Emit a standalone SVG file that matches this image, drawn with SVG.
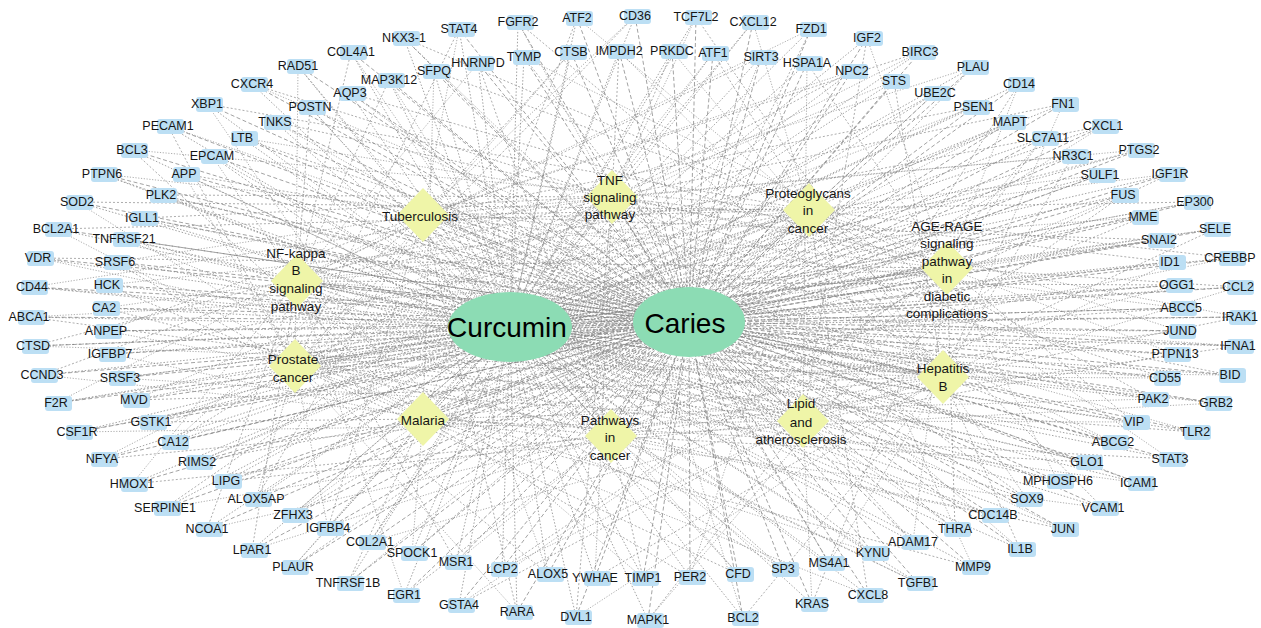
<svg xmlns="http://www.w3.org/2000/svg" xmlns:xlink="http://www.w3.org/1999/xlink" width="1261" height="628" viewBox="0 0 1261 628">
<style>
.bg{fill:#ffffff}
.e path{fill:none;stroke:#7a7a7a;stroke-width:.7}
.e1 path{stroke-dasharray:1.5 1.8}
.e2 path{stroke-dasharray:4 2.5}
.e3 path{stroke-dasharray:2 2;stroke:#8a8a8a}
.e4 path{stroke-dasharray:3 2;stroke:#888}
.e5 path{stroke-dasharray:1.2 1.6;stroke:#8a8a8a}
.g rect{fill:#bcdff4}
.g text{font-family:"Liberation Sans",Arial,sans-serif;font-size:12.5px;fill:#151515;text-anchor:middle}
.p use{fill:#eff5a8}
.p text{font-family:"Liberation Sans",Arial,sans-serif;font-size:13.5px;fill:#151515;text-anchor:middle}
.h ellipse{fill:#8cdcb4}
.h text{font-family:"Liberation Sans",Arial,sans-serif;font-size:28px;fill:#000;text-anchor:middle}
</style>
<defs>
<polygon id="dia" points="0,-27 26,0 0,27 -26,0"/>
</defs>
<rect class="bg" x="0" y="0" width="1261" height="628"/>
<g id="connectors" class="e">
<g id="edges-curcumin" class="e1">
<path d="M298 66L510 327"/><path d="M252 84L510 327"/><path d="M207 104L510 327"/><path d="M310 107L510 327"/><path d="M275 122L510 327"/><path d="M168 126L510 327"/><path d="M242 138L510 327"/><path d="M132 150L510 327"/><path d="M212 156L510 327"/><path d="M102 174L510 327"/><path d="M184 174L510 327"/><path d="M161 195L510 327"/><path d="M77 202L510 327"/><path d="M351 52L510 327"/><path d="M404 38L510 327"/><path d="M459 29L510 327"/><path d="M518 22L510 327"/><path d="M577 18L510 327"/><path d="M478 63L510 327"/><path d="M524 57L510 327"/><path d="M571 52L510 327"/><path d="M619 51L510 327"/><path d="M434 71L510 327"/><path d="M389 80L510 327"/><path d="M350 93L510 327"/><path d="M635 16L510 327"/><path d="M696 17L510 327"/><path d="M753 22L510 327"/><path d="M811 29L510 327"/><path d="M867 38L510 327"/><path d="M920 52L510 327"/><path d="M672 51L510 327"/><path d="M713 53L510 327"/><path d="M761 57L510 327"/><path d="M807 63L510 327"/><path d="M852 71L510 327"/><path d="M894 81L510 327"/><path d="M935 93L510 327"/><path d="M973 67L510 327"/><path d="M1019 84L510 327"/><path d="M974 107L510 327"/><path d="M1063 104L510 327"/><path d="M1010 122L510 327"/><path d="M1103 126L510 327"/><path d="M1043 138L510 327"/><path d="M1139 150L510 327"/><path d="M1073 156L510 327"/><path d="M1100 175L510 327"/><path d="M1170 174L510 327"/><path d="M1123 195L510 327"/><path d="M1195 202L510 327"/><path d="M142 218L510 327"/><path d="M56 229L510 327"/><path d="M124 239L510 327"/><path d="M38 258L510 327"/><path d="M115 262L510 327"/><path d="M32 287L510 327"/><path d="M107 285L510 327"/><path d="M104 308L510 327"/><path d="M29 317L510 327"/><path d="M106 331L510 327"/><path d="M33 346L510 327"/><path d="M110 354L510 327"/><path d="M42 375L510 327"/><path d="M120 378L510 327"/><path d="M56 403L510 327"/><path d="M134 400L510 327"/><path d="M151 422L510 327"/><path d="M1143 217L510 327"/><path d="M1215 229L510 327"/><path d="M1159 240L510 327"/><path d="M1170 262L510 327"/><path d="M1230 258L510 327"/><path d="M1177 285L510 327"/><path d="M1238 287L510 327"/><path d="M1181 308L510 327"/><path d="M1240 317L510 327"/><path d="M1180 331L510 327"/><path d="M1238 346L510 327"/><path d="M1175 354L510 327"/><path d="M1230 375L510 327"/><path d="M1165 378L510 327"/><path d="M1153 399L510 327"/><path d="M1216 403L510 327"/><path d="M1134 422L510 327"/><path d="M1195 432L510 327"/><path d="M1113 442L510 327"/><path d="M1170 459L510 327"/><path d="M1087 462L510 327"/><path d="M1058 481L510 327"/><path d="M1139 483L510 327"/><path d="M1027 499L510 327"/><path d="M1103 508L510 327"/><path d="M993 515L510 327"/><path d="M955 529L510 327"/><path d="M1063 529L510 327"/><path d="M1020 549L510 327"/><path d="M973 567L510 327"/><path d="M918 583L510 327"/><path d="M913 542L510 327"/><path d="M873 553L510 327"/><path d="M829 563L510 327"/><path d="M868 595L510 327"/><path d="M783 569L510 327"/><path d="M812 604L510 327"/><path d="M738 574L510 327"/><path d="M743 618L510 327"/><path d="M690 577L510 327"/><path d="M643 578L510 327"/><path d="M648 620L510 327"/><path d="M328 528L510 327"/><path d="M370 542L510 327"/><path d="M412 553L510 327"/><path d="M456 562L510 327"/><path d="M502 569L510 327"/><path d="M548 574L510 327"/><path d="M595 578L510 327"/><path d="M348 583L510 327"/><path d="M404 595L510 327"/><path d="M459 605L510 327"/><path d="M517 612L510 327"/><path d="M576 617L510 327"/><path d="M293 567L510 327"/><path d="M252 550L510 327"/><path d="M77 432L510 327"/><path d="M173 442L510 327"/><path d="M102 459L510 327"/><path d="M197 462L510 327"/><path d="M132 484L510 327"/><path d="M226 481L510 327"/><path d="M256 499L510 327"/><path d="M165 508L510 327"/><path d="M293 515L510 327"/><path d="M207 529L510 327"/>
</g>
<g id="edges-caries" class="e2">
<path d="M298 66L689 322"/><path d="M252 84L689 322"/><path d="M207 104L689 322"/><path d="M310 107L689 322"/><path d="M275 122L689 322"/><path d="M168 126L689 322"/><path d="M242 138L689 322"/><path d="M132 150L689 322"/><path d="M212 156L689 322"/><path d="M102 174L689 322"/><path d="M184 174L689 322"/><path d="M161 195L689 322"/><path d="M77 202L689 322"/><path d="M351 52L689 322"/><path d="M404 38L689 322"/><path d="M459 29L689 322"/><path d="M518 22L689 322"/><path d="M577 18L689 322"/><path d="M478 63L689 322"/><path d="M524 57L689 322"/><path d="M571 52L689 322"/><path d="M619 51L689 322"/><path d="M434 71L689 322"/><path d="M389 80L689 322"/><path d="M350 93L689 322"/><path d="M635 16L689 322"/><path d="M696 17L689 322"/><path d="M753 22L689 322"/><path d="M811 29L689 322"/><path d="M867 38L689 322"/><path d="M920 52L689 322"/><path d="M672 51L689 322"/><path d="M713 53L689 322"/><path d="M761 57L689 322"/><path d="M807 63L689 322"/><path d="M852 71L689 322"/><path d="M894 81L689 322"/><path d="M935 93L689 322"/><path d="M973 67L689 322"/><path d="M1019 84L689 322"/><path d="M974 107L689 322"/><path d="M1063 104L689 322"/><path d="M1010 122L689 322"/><path d="M1103 126L689 322"/><path d="M1043 138L689 322"/><path d="M1139 150L689 322"/><path d="M1073 156L689 322"/><path d="M1100 175L689 322"/><path d="M1170 174L689 322"/><path d="M1123 195L689 322"/><path d="M1195 202L689 322"/><path d="M142 218L689 322"/><path d="M56 229L689 322"/><path d="M124 239L689 322"/><path d="M38 258L689 322"/><path d="M115 262L689 322"/><path d="M32 287L689 322"/><path d="M107 285L689 322"/><path d="M104 308L689 322"/><path d="M29 317L689 322"/><path d="M106 331L689 322"/><path d="M33 346L689 322"/><path d="M110 354L689 322"/><path d="M42 375L689 322"/><path d="M120 378L689 322"/><path d="M56 403L689 322"/><path d="M134 400L689 322"/><path d="M151 422L689 322"/><path d="M1143 217L689 322"/><path d="M1215 229L689 322"/><path d="M1159 240L689 322"/><path d="M1170 262L689 322"/><path d="M1230 258L689 322"/><path d="M1177 285L689 322"/><path d="M1238 287L689 322"/><path d="M1181 308L689 322"/><path d="M1240 317L689 322"/><path d="M1180 331L689 322"/><path d="M1238 346L689 322"/><path d="M1175 354L689 322"/><path d="M1230 375L689 322"/><path d="M1165 378L689 322"/><path d="M1153 399L689 322"/><path d="M1216 403L689 322"/><path d="M1134 422L689 322"/><path d="M1195 432L689 322"/><path d="M1113 442L689 322"/><path d="M1170 459L689 322"/><path d="M1087 462L689 322"/><path d="M1058 481L689 322"/><path d="M1139 483L689 322"/><path d="M1027 499L689 322"/><path d="M1103 508L689 322"/><path d="M993 515L689 322"/><path d="M955 529L689 322"/><path d="M1063 529L689 322"/><path d="M1020 549L689 322"/><path d="M973 567L689 322"/><path d="M918 583L689 322"/><path d="M913 542L689 322"/><path d="M873 553L689 322"/><path d="M829 563L689 322"/><path d="M868 595L689 322"/><path d="M783 569L689 322"/><path d="M812 604L689 322"/><path d="M738 574L689 322"/><path d="M743 618L689 322"/><path d="M690 577L689 322"/><path d="M643 578L689 322"/><path d="M648 620L689 322"/><path d="M328 528L689 322"/><path d="M370 542L689 322"/><path d="M412 553L689 322"/><path d="M456 562L689 322"/><path d="M502 569L689 322"/><path d="M548 574L689 322"/><path d="M595 578L689 322"/><path d="M348 583L689 322"/><path d="M404 595L689 322"/><path d="M459 605L689 322"/><path d="M517 612L689 322"/><path d="M576 617L689 322"/><path d="M293 567L689 322"/><path d="M252 550L689 322"/><path d="M77 432L689 322"/><path d="M173 442L689 322"/><path d="M102 459L689 322"/><path d="M197 462L689 322"/><path d="M132 484L689 322"/><path d="M226 481L689 322"/><path d="M256 499L689 322"/><path d="M165 508L689 322"/><path d="M293 515L689 322"/><path d="M207 529L689 322"/>
</g>
<g id="edges-pathways" class="e3">
<path d="M298 66L423 215"/><path d="M184 174L423 215"/><path d="M571 52L423 215"/><path d="M920 52L423 215"/><path d="M974 107L423 215"/><path d="M1195 202L423 215"/><path d="M106 331L423 215"/><path d="M1159 240L423 215"/><path d="M1230 375L423 215"/><path d="M1139 483L423 215"/><path d="M873 553L423 215"/><path d="M328 528L423 215"/><path d="M517 612L423 215"/><path d="M256 499L423 215"/>
<path d="M252 84L612 197"/><path d="M161 195L612 197"/><path d="M619 51L612 197"/><path d="M672 51L612 197"/><path d="M1063 104L612 197"/><path d="M142 218L612 197"/><path d="M33 346L612 197"/><path d="M1170 262L612 197"/><path d="M1165 378L612 197"/><path d="M1027 499L612 197"/><path d="M829 563L612 197"/><path d="M370 542L612 197"/><path d="M576 617L612 197"/><path d="M165 508L612 197"/>
<path d="M207 104L809 210"/><path d="M77 202L809 210"/><path d="M434 71L809 210"/><path d="M713 53L809 210"/><path d="M1010 122L809 210"/><path d="M56 229L809 210"/><path d="M110 354L809 210"/><path d="M1230 258L809 210"/><path d="M1153 399L809 210"/><path d="M1103 508L809 210"/><path d="M868 595L809 210"/><path d="M412 553L809 210"/><path d="M293 567L809 210"/><path d="M293 515L809 210"/>
<path d="M310 107L297 281"/><path d="M351 52L297 281"/><path d="M389 80L297 281"/><path d="M761 57L297 281"/><path d="M1103 126L297 281"/><path d="M124 239L297 281"/><path d="M42 375L297 281"/><path d="M1177 285L297 281"/><path d="M1216 403L297 281"/><path d="M993 515L297 281"/><path d="M783 569L297 281"/><path d="M456 562L297 281"/><path d="M252 550L297 281"/><path d="M207 529L297 281"/>
<path d="M275 122L947 268"/><path d="M404 38L947 268"/><path d="M350 93L947 268"/><path d="M807 63L947 268"/><path d="M1043 138L947 268"/><path d="M38 258L947 268"/><path d="M120 378L947 268"/><path d="M1238 287L947 268"/><path d="M1134 422L947 268"/><path d="M955 529L947 268"/><path d="M812 604L947 268"/><path d="M502 569L947 268"/><path d="M77 432L947 268"/>
<path d="M168 126L295 366"/><path d="M459 29L295 366"/><path d="M635 16L295 366"/><path d="M852 71L295 366"/><path d="M1139 150L295 366"/><path d="M115 262L295 366"/><path d="M56 403L295 366"/><path d="M1181 308L295 366"/><path d="M1195 432L295 366"/><path d="M1063 529L295 366"/><path d="M738 574L295 366"/><path d="M548 574L295 366"/><path d="M173 442L295 366"/>
<path d="M242 138L943 377"/><path d="M518 22L943 377"/><path d="M696 17L943 377"/><path d="M894 81L943 377"/><path d="M1073 156L943 377"/><path d="M32 287L943 377"/><path d="M134 400L943 377"/><path d="M1240 317L943 377"/><path d="M1113 442L943 377"/><path d="M1020 549L943 377"/><path d="M743 618L943 377"/><path d="M595 578L943 377"/><path d="M102 459L943 377"/>
<path d="M132 150L423 419"/><path d="M577 18L423 419"/><path d="M753 22L423 419"/><path d="M935 93L423 419"/><path d="M1100 175L423 419"/><path d="M107 285L423 419"/><path d="M151 422L423 419"/><path d="M1180 331L423 419"/><path d="M1170 459L423 419"/><path d="M973 567L423 419"/><path d="M690 577L423 419"/><path d="M348 583L423 419"/><path d="M197 462L423 419"/>
<path d="M212 156L611 436"/><path d="M478 63L611 436"/><path d="M811 29L611 436"/><path d="M973 67L611 436"/><path d="M1170 174L611 436"/><path d="M104 308L611 436"/><path d="M1143 217L611 436"/><path d="M1238 346L611 436"/><path d="M1087 462L611 436"/><path d="M918 583L611 436"/><path d="M643 578L611 436"/><path d="M404 595L611 436"/><path d="M132 484L611 436"/>
<path d="M102 174L803 421"/><path d="M524 57L803 421"/><path d="M867 38L803 421"/><path d="M1019 84L803 421"/><path d="M1123 195L803 421"/><path d="M29 317L803 421"/><path d="M1215 229L803 421"/><path d="M1175 354L803 421"/><path d="M1058 481L803 421"/><path d="M913 542L803 421"/><path d="M648 620L803 421"/><path d="M459 605L803 421"/><path d="M226 481L803 421"/>
</g>
<g id="edges-pathways-2" class="e5">
<path d="M168 126L423 215"/><path d="M459 29L423 215"/><path d="M635 16L423 215"/><path d="M852 71L423 215"/><path d="M1139 150L423 215"/><path d="M115 262L423 215"/><path d="M56 403L423 215"/><path d="M1181 308L423 215"/><path d="M1195 432L423 215"/><path d="M1063 529L423 215"/><path d="M738 574L423 215"/><path d="M548 574L423 215"/><path d="M173 442L423 215"/>
<path d="M242 138L612 197"/><path d="M518 22L612 197"/><path d="M696 17L612 197"/><path d="M894 81L612 197"/><path d="M1073 156L612 197"/><path d="M32 287L612 197"/><path d="M134 400L612 197"/><path d="M1240 317L612 197"/><path d="M1113 442L612 197"/><path d="M1020 549L612 197"/><path d="M743 618L612 197"/><path d="M595 578L612 197"/><path d="M102 459L612 197"/>
<path d="M132 150L809 210"/><path d="M577 18L809 210"/><path d="M753 22L809 210"/><path d="M935 93L809 210"/><path d="M1100 175L809 210"/><path d="M107 285L809 210"/><path d="M151 422L809 210"/><path d="M1180 331L809 210"/><path d="M1170 459L809 210"/><path d="M973 567L809 210"/><path d="M690 577L809 210"/><path d="M348 583L809 210"/><path d="M197 462L809 210"/>
<path d="M212 156L297 281"/><path d="M478 63L297 281"/><path d="M811 29L297 281"/><path d="M973 67L297 281"/><path d="M1170 174L297 281"/><path d="M104 308L297 281"/><path d="M1143 217L297 281"/><path d="M1238 346L297 281"/><path d="M1087 462L297 281"/><path d="M918 583L297 281"/><path d="M643 578L297 281"/><path d="M404 595L297 281"/><path d="M132 484L297 281"/>
<path d="M102 174L947 268"/><path d="M524 57L947 268"/><path d="M867 38L947 268"/><path d="M1019 84L947 268"/><path d="M1123 195L947 268"/><path d="M29 317L947 268"/><path d="M1215 229L947 268"/><path d="M1175 354L947 268"/><path d="M1058 481L947 268"/><path d="M913 542L947 268"/><path d="M648 620L947 268"/><path d="M459 605L947 268"/><path d="M226 481L947 268"/>
<path d="M298 66L295 366"/><path d="M184 174L295 366"/><path d="M571 52L295 366"/><path d="M920 52L295 366"/><path d="M974 107L295 366"/><path d="M1195 202L295 366"/><path d="M106 331L295 366"/><path d="M1159 240L295 366"/><path d="M1230 375L295 366"/><path d="M1139 483L295 366"/><path d="M873 553L295 366"/><path d="M328 528L295 366"/><path d="M517 612L295 366"/><path d="M256 499L295 366"/>
<path d="M252 84L943 377"/><path d="M161 195L943 377"/><path d="M619 51L943 377"/><path d="M672 51L943 377"/><path d="M1063 104L943 377"/><path d="M142 218L943 377"/><path d="M33 346L943 377"/><path d="M1170 262L943 377"/><path d="M1165 378L943 377"/><path d="M1027 499L943 377"/><path d="M829 563L943 377"/><path d="M370 542L943 377"/><path d="M576 617L943 377"/><path d="M165 508L943 377"/>
<path d="M207 104L423 419"/><path d="M77 202L423 419"/><path d="M434 71L423 419"/><path d="M713 53L423 419"/><path d="M1010 122L423 419"/><path d="M56 229L423 419"/><path d="M110 354L423 419"/><path d="M1230 258L423 419"/><path d="M1153 399L423 419"/><path d="M1103 508L423 419"/><path d="M868 595L423 419"/><path d="M412 553L423 419"/><path d="M293 567L423 419"/><path d="M293 515L423 419"/>
<path d="M310 107L611 436"/><path d="M351 52L611 436"/><path d="M389 80L611 436"/><path d="M761 57L611 436"/><path d="M1103 126L611 436"/><path d="M124 239L611 436"/><path d="M42 375L611 436"/><path d="M1177 285L611 436"/><path d="M1216 403L611 436"/><path d="M993 515L611 436"/><path d="M783 569L611 436"/><path d="M456 562L611 436"/><path d="M252 550L611 436"/><path d="M207 529L611 436"/>
<path d="M275 122L803 421"/><path d="M404 38L803 421"/><path d="M350 93L803 421"/><path d="M807 63L803 421"/><path d="M1043 138L803 421"/><path d="M38 258L803 421"/><path d="M120 378L803 421"/><path d="M1238 287L803 421"/><path d="M1134 422L803 421"/><path d="M955 529L803 421"/><path d="M812 604L803 421"/><path d="M502 569L803 421"/><path d="M77 432L803 421"/>
</g>
<g id="edges-hub-pathway" class="e4">
<path d="M510 327L423 215"/><path d="M510 327L612 197"/><path d="M510 327L809 210"/><path d="M510 327L297 281"/><path d="M510 327L947 268"/><path d="M510 327L295 366"/><path d="M510 327L943 377"/><path d="M510 327L423 419"/><path d="M510 327L611 436"/><path d="M510 327L803 421"/>
<path d="M689 322L423 215"/><path d="M689 322L612 197"/><path d="M689 322L809 210"/><path d="M689 322L297 281"/><path d="M689 322L947 268"/><path d="M689 322L295 366"/><path d="M689 322L943 377"/><path d="M689 322L423 419"/><path d="M689 322L611 436"/><path d="M689 322L803 421"/>
</g>
</g>
<g id="pathways" class="p">
<g id="p-tuberculosis"><use href="#dia" x="423" y="215"/><text x="420" y="221">Tuberculosis</text></g>
<g id="p-tnf"><use href="#dia" x="612" y="197"/><text x="610" y="185">TNF</text><text x="610" y="202">signaling</text><text x="610" y="219">pathway</text></g>
<g id="p-proteoglycans"><use href="#dia" x="809" y="210"/><text x="808" y="198">Proteoglycans</text><text x="808" y="215">in</text><text x="808" y="233">cancer</text></g>
<g id="p-nfkb"><use href="#dia" x="297" y="281"/><text x="296" y="258">NF-kappa</text><text x="296" y="275">B</text><text x="296" y="293">signaling</text><text x="296" y="311">pathway</text></g>
<g id="p-agerage"><use href="#dia" x="947" y="268"/><text x="947" y="231">AGE-RAGE</text><text x="947" y="248">signaling</text><text x="947" y="266">pathway</text><text x="947" y="283">in</text><text x="947" y="301">diabetic</text><text x="947" y="318">complications</text></g>
<g id="p-prostate"><use href="#dia" x="295" y="366"/><text x="293" y="364">Prostate</text><text x="293" y="382">cancer</text></g>
<g id="p-hepatitisb"><use href="#dia" x="943" y="377"/><text x="943" y="373">Hepatitis</text><text x="943" y="391">B</text></g>
<g id="p-malaria"><use href="#dia" x="423" y="419"/><text x="423" y="425">Malaria</text></g>
<g id="p-pathwaysincancer"><use href="#dia" x="611" y="436"/><text x="610" y="425">Pathways</text><text x="610" y="442">in</text><text x="610" y="460">cancer</text></g>
<g id="p-lipid"><use href="#dia" x="803" y="421"/><text x="801" y="408">Lipid</text><text x="801" y="427">and</text><text x="801" y="444">atherosclerosis</text></g>
</g>
<g id="hubs" class="h">
<g id="n-curcumin"><ellipse cx="510" cy="327" rx="62" ry="35"/><text x="507" y="337">Curcumin</text></g>
<g id="n-caries"><ellipse cx="689" cy="322" rx="56" ry="35"/><text x="685" y="333">Caries</text></g>
</g>
<g id="genes" class="g">
<g id="n-RAD51"><rect x="287" y="59" width="27" height="15" rx="3"/><text x="298" y="70">RAD51</text></g>
<g id="n-CXCR4"><rect x="241" y="77" width="27" height="15" rx="3"/><text x="252" y="88">CXCR4</text></g>
<g id="n-XBP1"><rect x="196" y="97" width="27" height="15" rx="3"/><text x="207" y="108">XBP1</text></g>
<g id="n-POSTN"><rect x="299" y="100" width="27" height="15" rx="3"/><text x="310" y="111">POSTN</text></g>
<g id="n-TNKS"><rect x="264" y="115" width="27" height="15" rx="3"/><text x="275" y="126">TNKS</text></g>
<g id="n-PECAM1"><rect x="157" y="119" width="27" height="15" rx="3"/><text x="168" y="130">PECAM1</text></g>
<g id="n-LTB"><rect x="231" y="131" width="27" height="15" rx="3"/><text x="242" y="142">LTB</text></g>
<g id="n-BCL3"><rect x="121" y="143" width="27" height="15" rx="3"/><text x="132" y="154">BCL3</text></g>
<g id="n-EPCAM"><rect x="201" y="149" width="27" height="15" rx="3"/><text x="212" y="160">EPCAM</text></g>
<g id="n-PTPN6"><rect x="91" y="167" width="27" height="15" rx="3"/><text x="102" y="178">PTPN6</text></g>
<g id="n-APP"><rect x="173" y="167" width="27" height="15" rx="3"/><text x="184" y="178">APP</text></g>
<g id="n-PLK2"><rect x="150" y="188" width="27" height="15" rx="3"/><text x="161" y="199">PLK2</text></g>
<g id="n-SOD2"><rect x="66" y="195" width="27" height="15" rx="3"/><text x="77" y="206">SOD2</text></g>
<g id="n-COL4A1"><rect x="340" y="45" width="27" height="15" rx="3"/><text x="351" y="56">COL4A1</text></g>
<g id="n-NKX3-1"><rect x="393" y="31" width="27" height="15" rx="3"/><text x="404" y="42">NKX3-1</text></g>
<g id="n-STAT4"><rect x="448" y="22" width="27" height="15" rx="3"/><text x="459" y="33">STAT4</text></g>
<g id="n-FGFR2"><rect x="507" y="15" width="27" height="15" rx="3"/><text x="518" y="26">FGFR2</text></g>
<g id="n-ATF2"><rect x="566" y="11" width="27" height="15" rx="3"/><text x="577" y="22">ATF2</text></g>
<g id="n-HNRNPD"><rect x="467" y="56" width="27" height="15" rx="3"/><text x="478" y="67">HNRNPD</text></g>
<g id="n-TYMP"><rect x="513" y="50" width="27" height="15" rx="3"/><text x="524" y="61">TYMP</text></g>
<g id="n-CTSB"><rect x="560" y="45" width="27" height="15" rx="3"/><text x="571" y="56">CTSB</text></g>
<g id="n-IMPDH2"><rect x="608" y="44" width="27" height="15" rx="3"/><text x="619" y="55">IMPDH2</text></g>
<g id="n-SFPQ"><rect x="423" y="64" width="27" height="15" rx="3"/><text x="434" y="75">SFPQ</text></g>
<g id="n-MAP3K12"><rect x="378" y="73" width="27" height="15" rx="3"/><text x="389" y="84">MAP3K12</text></g>
<g id="n-AQP3"><rect x="339" y="86" width="27" height="15" rx="3"/><text x="350" y="97">AQP3</text></g>
<g id="n-CD36"><rect x="624" y="9" width="27" height="15" rx="3"/><text x="635" y="20">CD36</text></g>
<g id="n-TCF7L2"><rect x="685" y="10" width="27" height="15" rx="3"/><text x="696" y="21">TCF7L2</text></g>
<g id="n-CXCL12"><rect x="742" y="15" width="27" height="15" rx="3"/><text x="753" y="26">CXCL12</text></g>
<g id="n-FZD1"><rect x="800" y="22" width="27" height="15" rx="3"/><text x="811" y="33">FZD1</text></g>
<g id="n-IGF2"><rect x="856" y="31" width="27" height="15" rx="3"/><text x="867" y="42">IGF2</text></g>
<g id="n-BIRC3"><rect x="909" y="45" width="27" height="15" rx="3"/><text x="920" y="56">BIRC3</text></g>
<g id="n-PRKDC"><rect x="661" y="44" width="27" height="15" rx="3"/><text x="672" y="55">PRKDC</text></g>
<g id="n-ATF1"><rect x="702" y="46" width="27" height="15" rx="3"/><text x="713" y="57">ATF1</text></g>
<g id="n-SIRT3"><rect x="750" y="50" width="27" height="15" rx="3"/><text x="761" y="61">SIRT3</text></g>
<g id="n-HSPA1A"><rect x="796" y="56" width="27" height="15" rx="3"/><text x="807" y="67">HSPA1A</text></g>
<g id="n-NPC2"><rect x="841" y="64" width="27" height="15" rx="3"/><text x="852" y="75">NPC2</text></g>
<g id="n-STS"><rect x="883" y="74" width="27" height="15" rx="3"/><text x="894" y="85">STS</text></g>
<g id="n-UBE2C"><rect x="924" y="86" width="27" height="15" rx="3"/><text x="935" y="97">UBE2C</text></g>
<g id="n-PLAU"><rect x="962" y="60" width="27" height="15" rx="3"/><text x="973" y="71">PLAU</text></g>
<g id="n-CD14"><rect x="1008" y="77" width="27" height="15" rx="3"/><text x="1019" y="88">CD14</text></g>
<g id="n-PSEN1"><rect x="963" y="100" width="27" height="15" rx="3"/><text x="974" y="111">PSEN1</text></g>
<g id="n-FN1"><rect x="1052" y="97" width="27" height="15" rx="3"/><text x="1063" y="108">FN1</text></g>
<g id="n-MAPT"><rect x="999" y="115" width="27" height="15" rx="3"/><text x="1010" y="126">MAPT</text></g>
<g id="n-CXCL1"><rect x="1092" y="119" width="27" height="15" rx="3"/><text x="1103" y="130">CXCL1</text></g>
<g id="n-SLC7A11"><rect x="1032" y="131" width="27" height="15" rx="3"/><text x="1043" y="142">SLC7A11</text></g>
<g id="n-PTGS2"><rect x="1128" y="143" width="27" height="15" rx="3"/><text x="1139" y="154">PTGS2</text></g>
<g id="n-NR3C1"><rect x="1062" y="149" width="27" height="15" rx="3"/><text x="1073" y="160">NR3C1</text></g>
<g id="n-SULF1"><rect x="1089" y="168" width="27" height="15" rx="3"/><text x="1100" y="179">SULF1</text></g>
<g id="n-IGF1R"><rect x="1159" y="167" width="27" height="15" rx="3"/><text x="1170" y="178">IGF1R</text></g>
<g id="n-FUS"><rect x="1112" y="188" width="27" height="15" rx="3"/><text x="1123" y="199">FUS</text></g>
<g id="n-EP300"><rect x="1184" y="195" width="27" height="15" rx="3"/><text x="1195" y="206">EP300</text></g>
<g id="n-IGLL1"><rect x="131" y="211" width="27" height="15" rx="3"/><text x="142" y="222">IGLL1</text></g>
<g id="n-BCL2A1"><rect x="45" y="222" width="27" height="15" rx="3"/><text x="56" y="233">BCL2A1</text></g>
<g id="n-TNFRSF21"><rect x="113" y="232" width="27" height="15" rx="3"/><text x="124" y="243">TNFRSF21</text></g>
<g id="n-VDR"><rect x="27" y="251" width="27" height="15" rx="3"/><text x="38" y="262">VDR</text></g>
<g id="n-SRSF6"><rect x="104" y="255" width="27" height="15" rx="3"/><text x="115" y="266">SRSF6</text></g>
<g id="n-CD44"><rect x="21" y="280" width="27" height="15" rx="3"/><text x="32" y="291">CD44</text></g>
<g id="n-HCK"><rect x="96" y="278" width="27" height="15" rx="3"/><text x="107" y="289">HCK</text></g>
<g id="n-CA2"><rect x="93" y="301" width="27" height="15" rx="3"/><text x="104" y="312">CA2</text></g>
<g id="n-ABCA1"><rect x="18" y="310" width="27" height="15" rx="3"/><text x="29" y="321">ABCA1</text></g>
<g id="n-ANPEP"><rect x="95" y="324" width="27" height="15" rx="3"/><text x="106" y="335">ANPEP</text></g>
<g id="n-CTSD"><rect x="22" y="339" width="27" height="15" rx="3"/><text x="33" y="350">CTSD</text></g>
<g id="n-IGFBP7"><rect x="99" y="347" width="27" height="15" rx="3"/><text x="110" y="358">IGFBP7</text></g>
<g id="n-CCND3"><rect x="31" y="368" width="27" height="15" rx="3"/><text x="42" y="379">CCND3</text></g>
<g id="n-SRSF3"><rect x="109" y="371" width="27" height="15" rx="3"/><text x="120" y="382">SRSF3</text></g>
<g id="n-F2R"><rect x="45" y="396" width="27" height="15" rx="3"/><text x="56" y="407">F2R</text></g>
<g id="n-MVD"><rect x="123" y="393" width="27" height="15" rx="3"/><text x="134" y="404">MVD</text></g>
<g id="n-GSTK1"><rect x="140" y="415" width="27" height="15" rx="3"/><text x="151" y="426">GSTK1</text></g>
<g id="n-MME"><rect x="1132" y="210" width="27" height="15" rx="3"/><text x="1143" y="221">MME</text></g>
<g id="n-SELE"><rect x="1204" y="222" width="27" height="15" rx="3"/><text x="1215" y="233">SELE</text></g>
<g id="n-SNAI2"><rect x="1148" y="233" width="27" height="15" rx="3"/><text x="1159" y="244">SNAI2</text></g>
<g id="n-ID1"><rect x="1159" y="255" width="27" height="15" rx="3"/><text x="1170" y="266">ID1</text></g>
<g id="n-CREBBP"><rect x="1219" y="251" width="27" height="15" rx="3"/><text x="1230" y="262">CREBBP</text></g>
<g id="n-OGG1"><rect x="1166" y="278" width="27" height="15" rx="3"/><text x="1177" y="289">OGG1</text></g>
<g id="n-CCL2"><rect x="1227" y="280" width="27" height="15" rx="3"/><text x="1238" y="291">CCL2</text></g>
<g id="n-ABCC5"><rect x="1170" y="301" width="27" height="15" rx="3"/><text x="1181" y="312">ABCC5</text></g>
<g id="n-IRAK1"><rect x="1229" y="310" width="27" height="15" rx="3"/><text x="1240" y="321">IRAK1</text></g>
<g id="n-JUND"><rect x="1169" y="324" width="27" height="15" rx="3"/><text x="1180" y="335">JUND</text></g>
<g id="n-IFNA1"><rect x="1227" y="339" width="27" height="15" rx="3"/><text x="1238" y="350">IFNA1</text></g>
<g id="n-PTPN13"><rect x="1164" y="347" width="27" height="15" rx="3"/><text x="1175" y="358">PTPN13</text></g>
<g id="n-BID"><rect x="1219" y="368" width="27" height="15" rx="3"/><text x="1230" y="379">BID</text></g>
<g id="n-CD55"><rect x="1154" y="371" width="27" height="15" rx="3"/><text x="1165" y="382">CD55</text></g>
<g id="n-PAK2"><rect x="1142" y="392" width="27" height="15" rx="3"/><text x="1153" y="403">PAK2</text></g>
<g id="n-GRB2"><rect x="1205" y="396" width="27" height="15" rx="3"/><text x="1216" y="407">GRB2</text></g>
<g id="n-VIP"><rect x="1123" y="415" width="27" height="15" rx="3"/><text x="1134" y="426">VIP</text></g>
<g id="n-TLR2"><rect x="1184" y="425" width="27" height="15" rx="3"/><text x="1195" y="436">TLR2</text></g>
<g id="n-ABCG2"><rect x="1102" y="435" width="27" height="15" rx="3"/><text x="1113" y="446">ABCG2</text></g>
<g id="n-STAT3"><rect x="1159" y="452" width="27" height="15" rx="3"/><text x="1170" y="463">STAT3</text></g>
<g id="n-GLO1"><rect x="1076" y="455" width="27" height="15" rx="3"/><text x="1087" y="466">GLO1</text></g>
<g id="n-MPHOSPH6"><rect x="1047" y="474" width="27" height="15" rx="3"/><text x="1058" y="485">MPHOSPH6</text></g>
<g id="n-ICAM1"><rect x="1128" y="476" width="27" height="15" rx="3"/><text x="1139" y="487">ICAM1</text></g>
<g id="n-SOX9"><rect x="1016" y="492" width="27" height="15" rx="3"/><text x="1027" y="503">SOX9</text></g>
<g id="n-VCAM1"><rect x="1092" y="501" width="27" height="15" rx="3"/><text x="1103" y="512">VCAM1</text></g>
<g id="n-CDC14B"><rect x="982" y="508" width="27" height="15" rx="3"/><text x="993" y="519">CDC14B</text></g>
<g id="n-THRA"><rect x="944" y="522" width="27" height="15" rx="3"/><text x="955" y="533">THRA</text></g>
<g id="n-JUN"><rect x="1052" y="522" width="27" height="15" rx="3"/><text x="1063" y="533">JUN</text></g>
<g id="n-IL1B"><rect x="1009" y="542" width="27" height="15" rx="3"/><text x="1020" y="553">IL1B</text></g>
<g id="n-MMP9"><rect x="962" y="560" width="27" height="15" rx="3"/><text x="973" y="571">MMP9</text></g>
<g id="n-TGFB1"><rect x="907" y="576" width="27" height="15" rx="3"/><text x="918" y="587">TGFB1</text></g>
<g id="n-ADAM17"><rect x="902" y="535" width="27" height="15" rx="3"/><text x="913" y="546">ADAM17</text></g>
<g id="n-KYNU"><rect x="862" y="546" width="27" height="15" rx="3"/><text x="873" y="557">KYNU</text></g>
<g id="n-MS4A1"><rect x="818" y="556" width="27" height="15" rx="3"/><text x="829" y="567">MS4A1</text></g>
<g id="n-CXCL8"><rect x="857" y="588" width="27" height="15" rx="3"/><text x="868" y="599">CXCL8</text></g>
<g id="n-SP3"><rect x="772" y="562" width="27" height="15" rx="3"/><text x="783" y="573">SP3</text></g>
<g id="n-KRAS"><rect x="801" y="597" width="27" height="15" rx="3"/><text x="812" y="608">KRAS</text></g>
<g id="n-CFD"><rect x="727" y="567" width="27" height="15" rx="3"/><text x="738" y="578">CFD</text></g>
<g id="n-BCL2"><rect x="732" y="611" width="27" height="15" rx="3"/><text x="743" y="622">BCL2</text></g>
<g id="n-PER2"><rect x="679" y="570" width="27" height="15" rx="3"/><text x="690" y="581">PER2</text></g>
<g id="n-TIMP1"><rect x="632" y="571" width="27" height="15" rx="3"/><text x="643" y="582">TIMP1</text></g>
<g id="n-MAPK1"><rect x="637" y="613" width="27" height="15" rx="3"/><text x="648" y="624">MAPK1</text></g>
<g id="n-IGFBP4"><rect x="317" y="521" width="27" height="15" rx="3"/><text x="328" y="532">IGFBP4</text></g>
<g id="n-COL2A1"><rect x="359" y="535" width="27" height="15" rx="3"/><text x="370" y="546">COL2A1</text></g>
<g id="n-SPOCK1"><rect x="401" y="546" width="27" height="15" rx="3"/><text x="412" y="557">SPOCK1</text></g>
<g id="n-MSR1"><rect x="445" y="555" width="27" height="15" rx="3"/><text x="456" y="566">MSR1</text></g>
<g id="n-LCP2"><rect x="491" y="562" width="27" height="15" rx="3"/><text x="502" y="573">LCP2</text></g>
<g id="n-ALOX5"><rect x="537" y="567" width="27" height="15" rx="3"/><text x="548" y="578">ALOX5</text></g>
<g id="n-YWHAE"><rect x="584" y="571" width="27" height="15" rx="3"/><text x="595" y="582">YWHAE</text></g>
<g id="n-TNFRSF1B"><rect x="337" y="576" width="27" height="15" rx="3"/><text x="348" y="587">TNFRSF1B</text></g>
<g id="n-EGR1"><rect x="393" y="588" width="27" height="15" rx="3"/><text x="404" y="599">EGR1</text></g>
<g id="n-GSTA4"><rect x="448" y="598" width="27" height="15" rx="3"/><text x="459" y="609">GSTA4</text></g>
<g id="n-RARA"><rect x="506" y="605" width="27" height="15" rx="3"/><text x="517" y="616">RARA</text></g>
<g id="n-DVL1"><rect x="565" y="610" width="27" height="15" rx="3"/><text x="576" y="621">DVL1</text></g>
<g id="n-PLAUR"><rect x="282" y="560" width="27" height="15" rx="3"/><text x="293" y="571">PLAUR</text></g>
<g id="n-LPAR1"><rect x="241" y="543" width="27" height="15" rx="3"/><text x="252" y="554">LPAR1</text></g>
<g id="n-CSF1R"><rect x="66" y="425" width="27" height="15" rx="3"/><text x="77" y="436">CSF1R</text></g>
<g id="n-CA12"><rect x="162" y="435" width="27" height="15" rx="3"/><text x="173" y="446">CA12</text></g>
<g id="n-NFYA"><rect x="91" y="452" width="27" height="15" rx="3"/><text x="102" y="463">NFYA</text></g>
<g id="n-RIMS2"><rect x="186" y="455" width="27" height="15" rx="3"/><text x="197" y="466">RIMS2</text></g>
<g id="n-HMOX1"><rect x="121" y="477" width="27" height="15" rx="3"/><text x="132" y="488">HMOX1</text></g>
<g id="n-LIPG"><rect x="215" y="474" width="27" height="15" rx="3"/><text x="226" y="485">LIPG</text></g>
<g id="n-ALOX5AP"><rect x="245" y="492" width="27" height="15" rx="3"/><text x="256" y="503">ALOX5AP</text></g>
<g id="n-SERPINE1"><rect x="154" y="501" width="27" height="15" rx="3"/><text x="165" y="512">SERPINE1</text></g>
<g id="n-ZFHX3"><rect x="282" y="508" width="27" height="15" rx="3"/><text x="293" y="519">ZFHX3</text></g>
<g id="n-NCOA1"><rect x="196" y="522" width="27" height="15" rx="3"/><text x="207" y="533">NCOA1</text></g>
</g>
</svg>
